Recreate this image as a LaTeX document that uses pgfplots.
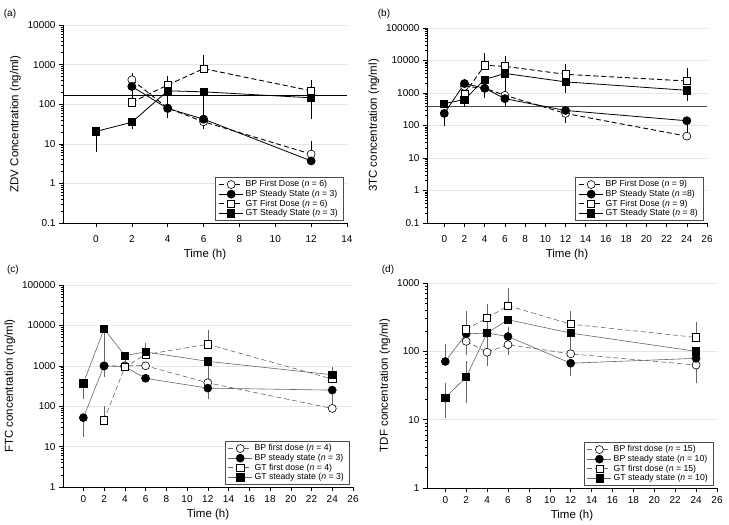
\documentclass[border=0pt]{standalone}
\usepackage{fontspec}
\setmainfont{Liberation Sans}
\usepackage{pgfplots}
\pgfplotsset{compat=1.18}

\pgfplotsset{
  pkaxis/.style={
    scale only axis,
    axis x line*=bottom, axis y line*=left,
    tick align=outside, major tick length=4pt, minor tick length=2pt,
    every tick/.style={black, line width=0.5pt},
    axis line style={black, line width=0.6pt},
    ymajorgrids, grid style={black!10, line width=0.4pt},
    tick label style={font=\fontsize{10}{11}\selectfont},
    label style={font=\fontsize{11.5}{13}\selectfont},
    xlabel={Time (h)},
    legend cell align=left,
    legend image code/.code={\draw[mark repeat=2, mark phase=2, ##1]
      plot coordinates {(0pt,0pt) (12pt,0pt) (24pt,0pt)};},
    legend style={at={(1,0)}, anchor=south east, xshift=-4pt, yshift=2pt,
      draw=black!70, line width=0.5pt, font=\fontsize{8.7}{10}\selectfont,
      inner xsep=3pt, inner ysep=2pt, row sep=-1.2pt, fill=white,
      nodes={inner ysep=1.5pt}},
    clip=false,
  },
  errs/.style={error bars/y dir=both, error bars/y explicit,
    error bars/error bar style={solid, line width=0.5pt},
    error bars/error mark options={mark size=4pt, line width=0.5pt}},
  bpf/.style={errs, black, line width=0.9pt, dash pattern=on 5pt off 3pt, mark=*, mark size=4pt,
    mark options={solid, fill=white, draw=black, line width=0.6pt}},
  bps/.style={errs, black, line width=0.8pt, mark=*, mark size=4pt,
    mark options={solid, fill=black, draw=black}},
  gtf/.style={errs, black, line width=0.9pt, dash pattern=on 5pt off 3pt, mark=square*, mark size=3.6pt,
    mark options={solid, fill=white, draw=black, line width=0.6pt}},
  gts/.style={errs, black, line width=0.8pt, mark=square*, mark size=3.6pt,
    mark options={solid, fill=black, draw=black}},
  gbpf/.style={errs, black!60, line width=0.6pt, dash pattern=on 5pt off 3pt, mark=*, mark size=4pt,
    mark options={solid, fill=white, draw=black, line width=0.6pt}},
  gbps/.style={errs, black!60, line width=0.6pt, mark=*, mark size=4pt,
    mark options={solid, fill=black, draw=black}},
  ggtf/.style={errs, black!60, line width=0.6pt, dash pattern=on 5pt off 3pt, mark=square*, mark size=3.6pt,
    mark options={solid, fill=white, draw=black, line width=0.6pt}},
  ggts/.style={errs, black!60, line width=0.6pt, mark=square*, mark size=3.6pt,
    mark options={solid, fill=black, draw=black}},
}

\begin{document}
\begin{tikzpicture}
\path[use as bounding box] (0,0) rectangle (729pt,525pt);

\node[font=\fontsize{10}{12}\selectfont] at (10pt,511pt) {(a)};
\node[font=\fontsize{10}{12}\selectfont] at (384pt,511pt) {(b)};
\node[font=\fontsize{10}{12}\selectfont] at (13pt,255pt) {(c)};
\node[font=\fontsize{10}{12}\selectfont] at (388pt,255pt) {(d)};

% (a) ZDV
\begin{semilogyaxis}[pkaxis, at={(63pt,302pt)}, anchor=south west, width=284pt, height=198pt,
  xmin=-1.84, xmax=14, ymin=0.1, ymax=10000,
  xticklabel style={yshift=-5pt},
  xtick={0,2,4,6,8,10,12,14}, xticklabels={0,2,4,6,8,10,12,14},
  ytick={0.1,1,10,100,1000,10000}, yticklabels={0.1,1,10,100,1000,10000},
  ylabel={ZDV Concentration (ng/ml)}]
\addplot[black, line width=0.9pt, forget plot] coordinates {(-1.84,170) (14,170)};
\addplot[bpf] coordinates {(2,415) += (0,70) (4,80) += (0,40) (6,36) += (0,18) (12,5.5) += (0,3.6)};
\addplot[bps] coordinates {(2,280) (4,78) -= (0,22) (6,42) -= (0,12) (12,3.7)};
\addplot[gtf] coordinates {(2,112) += (0,93) (4,305) += (0,110) (6,790) += (0,590) (12,218) += (0,112)};
\addplot[gts] coordinates {(0,20.5) -= (0,12.7) (2,35) -= (0,6) (4,218) -= (0,108) (6,205) -= (0,160) (12,145) -= (0,93)};
\legend{BP First Dose (\textit{n} = 6), BP Steady State (\textit{n} = 3), GT First Dose (\textit{n} = 6), GT Steady State (\textit{n} = 3)}
\end{semilogyaxis}

% (b) 3TC
\begin{semilogyaxis}[pkaxis, at={(427pt,302pt)}, anchor=south west, width=280pt, height=195pt,
  xmin=-1.71, xmax=26, ymin=0.1, ymax=100000,
  xticklabel style={yshift=-5pt},
  xtick={0,2,...,26}, xticklabels={0,2,4,6,8,10,12,14,16,18,20,22,24,26},
  ytick={0.1,1,10,100,1000,10000,100000}, yticklabels={0.1,1,10,100,1000,10000,100000},
  ylabel={3TC concentration (ng/ml)}]
\addplot[black!70, line width=0.8pt, forget plot] coordinates {(-1.71,400) (26,400)};
\addplot[bpf] coordinates {(2,1600) (4,1400) (6,850) += (0,250) (12,235) += (0,70) (24,47) += (0,22)};
\addplot[bps] coordinates {(0,235) -= (0,105) (2,1950) (4,1400) -= (0,450) (6,670) -= (0,140) (12,290) -= (0,130) (24,140) -= (0,48)};
\addplot[gtf] coordinates {(2,950) += (0,500) (4,7100) += (0,5800) (6,6600) += (0,4100) (12,3760) += (0,2140) (24,2340) += (0,1960)};
\addplot[gts] coordinates {(0,470) (2,630) -= (0,130) (4,2600) (6,4000) -= (0,2050) (12,2200) -= (0,900) (24,1210) -= (0,470)};
\legend{BP First Dose (\textit{n} = 9), BP Steady State (\textit{n} =8), GT First Dose (\textit{n} = 9), GT Steady State (\textit{n} = 8)}
\end{semilogyaxis}

% (c) FTC
\begin{semilogyaxis}[pkaxis, at={(63pt,38pt)}, anchor=south west, width=290pt, height=202pt,
  xmin=-1.96, xmax=26, ymin=1, ymax=100000,
  xticklabel style={yshift=-1pt},
  xtick={0,2,...,26}, xticklabels={0,2,4,6,8,10,12,14,16,18,20,22,24,26},
  ytick={1,10,100,1000,10000,100000}, yticklabels={1,10,100,1000,10000,100000},
  ylabel={FTC concentration (ng/ml)}]
\addplot[gbpf] coordinates {(2,980) += (0,250) (4,1000) += (0,300) (6,1000) (12,380) += (0,100) (24,88)};
\addplot[gbps] coordinates {(0,52) -= (0,30) (2,1000) -= (0,350) (4,950) (6,490) (12,280) -= (0,90) (24,250) -= (0,160)};
\addplot[ggtf] coordinates {(2,45) += (0,35) (4,930) += (0,310) (6,1900) (12,3400) += (0,2600) (24,470) += (0,280)};
\addplot[ggts] coordinates {(0,370) -= (0,180) (2,8200) -= (0,7500) (4,1800) (6,2200) += (0,800) (12,1290) -= (0,570) (24,600)};
\legend{BP first dose (\textit{n} = 4), BP steady state (\textit{n} = 3), GT first dose (\textit{n} = 4), GT steady state (\textit{n} = 3)}
\end{semilogyaxis}

% (d) TDF
\begin{semilogyaxis}[pkaxis, at={(427pt,37pt)}, anchor=south west, width=290pt, height=205pt,
  xmin=-1.75, xmax=26, ymin=1, ymax=1000,
  xticklabel style={yshift=-1pt},
  xtick={0,2,...,26}, xticklabels={0,2,4,6,8,10,12,14,16,18,20,22,24,26},
  ytick={1,10,100,1000}, yticklabels={1,10,100,1000},
  ylabel={TDF concentration (ng/ml)}]
\addplot[gbpf] coordinates {(2,140) -= (0,40) (4,97) -= (0,27) (6,125) -= (0,25) (12,92) += (0,26) (24,63) -= (0,12)};
\addplot[gbps] coordinates {(0,71) += (0,40) (2,180) (4,185) += (0,60) (6,165) += (0,35) (12,67) -= (0,17) (24,79) -= (0,40)};
\addplot[ggtf] coordinates {(2,210) += (0,135) (4,308) += (0,120) (6,465) += (0,265) (12,250) += (0,95) (24,160) += (0,72)};
\addplot[ggts] coordinates {(0,21) += (0,9) -= (0,8.7) (2,42) += (0,21) -= (0,22) (4,185) -= (0,60) (6,290) (12,185) -= (0,67) (24,100)};
\legend{BP first dose (\textit{n} = 15), BP steady state (\textit{n} = 10), GT first dose (\textit{n} = 15), GT steady state (\textit{n} = 10)}
\end{semilogyaxis}
\end{tikzpicture}
\end{document}
